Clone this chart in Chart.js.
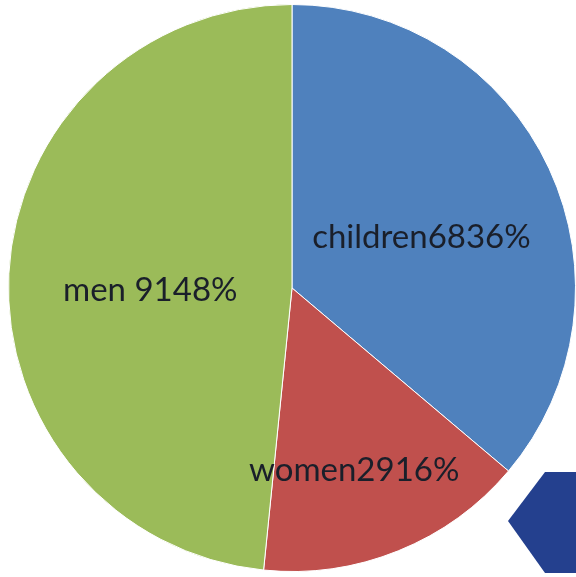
<!DOCTYPE html>
<html>
<head>
<meta charset="utf-8">
<script src="https://cdn.jsdelivr.net/npm/chart.js@4/dist/chart.umd.min.js"></script>
<style>
html,body{margin:0;padding:0;background:#fff;overflow:hidden;}
#wrap{width:576px;height:577px;}
</style>
</head>
<body>
<div id="wrap"><canvas id="c" width="576" height="577"></canvas></div>
<script>
const categories = ['children', 'women', 'men'];
const values = [6836, 2916, 9148];
const labelTexts = ['children6836%', 'women2916%', 'men 9148%'];
const colors = ['#4F81BD', '#C0504D', '#9BBB59'];
// label placement: fraction of radius and angle tweak (degrees) from slice mid-angle
const labelRadius = [0.49, 0.68, 0.50];
const labelAngleShift = [3.6, 3.2, -3.8];

const labelPlugin = {
  id: 'sliceLabels',
  afterDatasetsDraw(chart) {
    const ctx = chart.ctx;
    const meta = chart.getDatasetMeta(0);
    ctx.save();
    ctx.font = '33px Lato, "Open Sans", sans-serif';
    ctx.fillStyle = '#1a1f2a';
    ctx.textAlign = 'center';
    ctx.textBaseline = 'middle';
    meta.data.forEach((arc, i) => {
      const p = arc.getProps(['x','y','startAngle','endAngle','outerRadius'], true);
      const mid = (p.startAngle + p.endAngle) / 2 + labelAngleShift[i] * Math.PI / 180;
      const r = p.outerRadius * labelRadius[i];
      ctx.fillText(labelTexts[i], p.x + Math.cos(mid) * r, p.y + Math.sin(mid) * r);
    });
    ctx.restore();
  }
};

const shapePlugin = {
  id: 'cornerShape',
  afterDraw(chart) {
    const ctx = chart.ctx;
    ctx.save();
    ctx.fillStyle = '#24408E';
    ctx.beginPath();
    ctx.moveTo(508, 521);
    ctx.lineTo(545, 472);
    ctx.lineTo(576, 472);
    ctx.lineTo(576, 573);
    ctx.lineTo(545, 573);
    ctx.closePath();
    ctx.fill();
    ctx.restore();
  }
};

new Chart(document.getElementById('c'), {
  type: 'pie',
  data: {
    labels: categories,
    datasets: [{
      data: values,
      backgroundColor: colors,
      borderColor: '#ffffff',
      borderWidth: 1
    }]
  },
  options: {
    responsive: false,
    animation: false,
    layout: { padding: { left: 8, right: 0, top: 4, bottom: 5 } },
    plugins: { legend: { display: false }, tooltip: { enabled: false } }
  },
  plugins: [labelPlugin, shapePlugin]
});
</script>
</body>
</html>
